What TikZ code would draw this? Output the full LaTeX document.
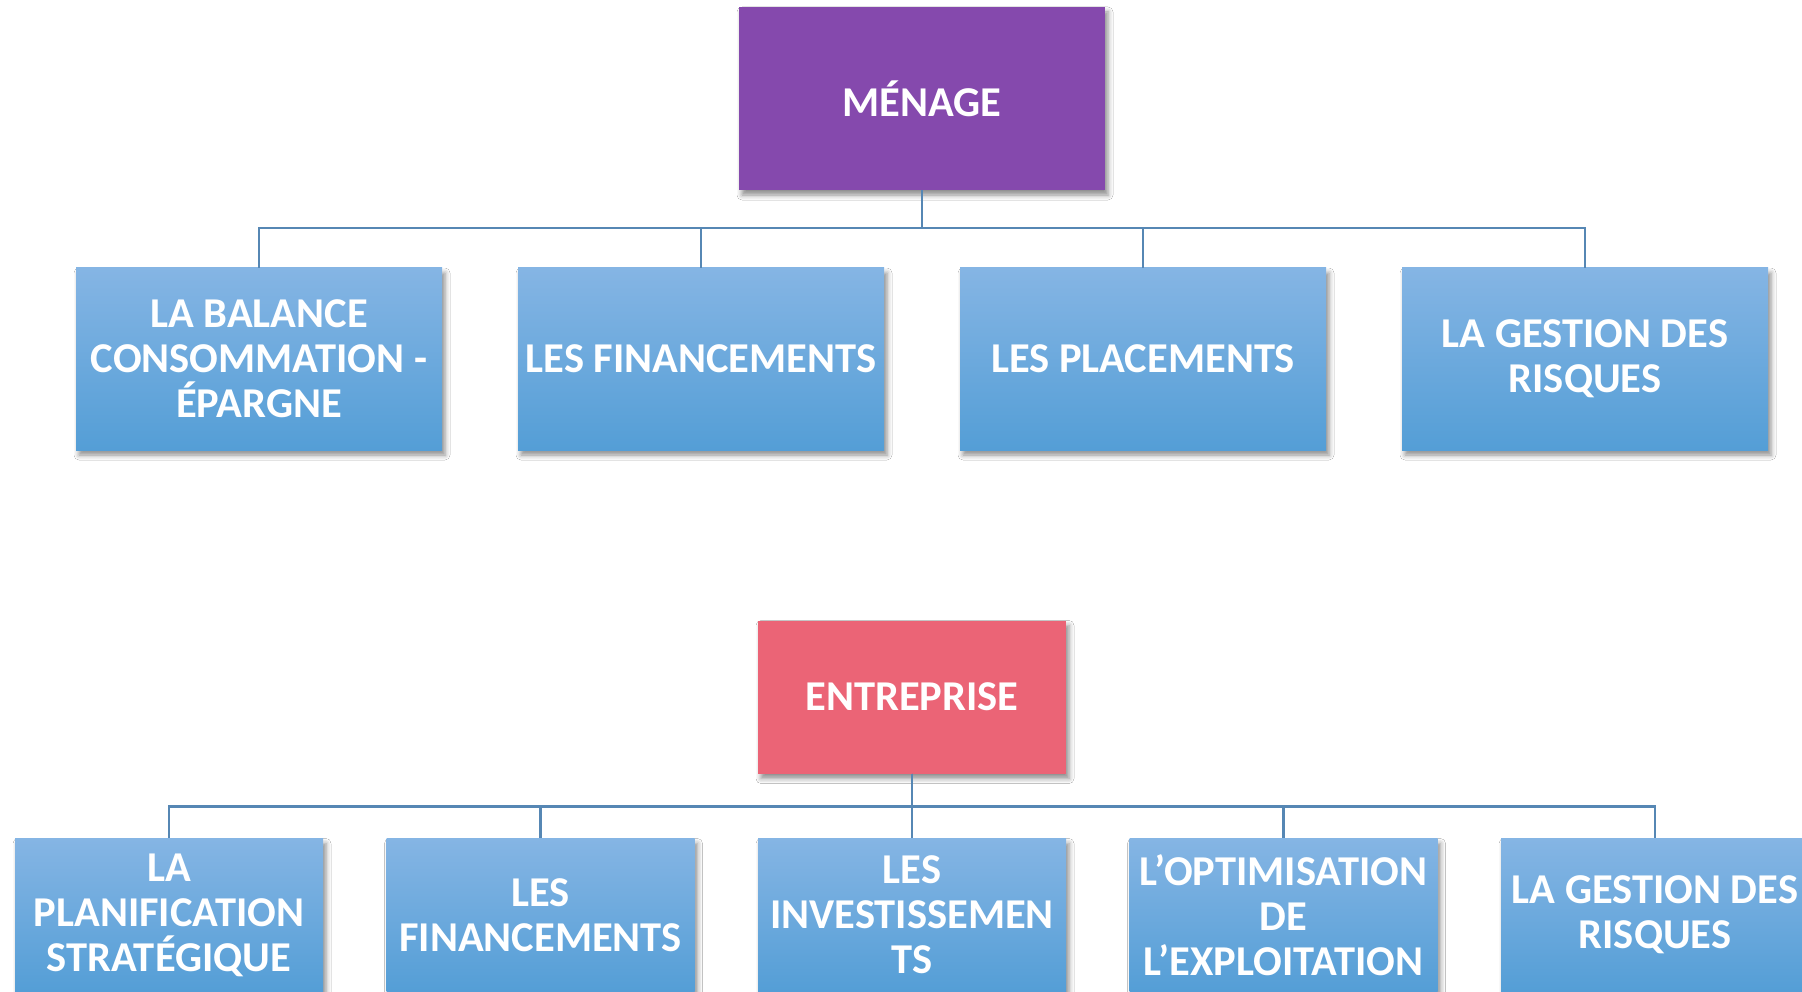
\documentclass[tikz,border=0pt]{standalone}
\usepackage{fontspec}
\setmainfont{Carlito}
\usetikzlibrary{shadows.blur}
\definecolor{menagepurple}{RGB}{133,73,173}
\definecolor{entrepink}{RGB}{235,100,118}
\definecolor{boxtop}{RGB}{133,181,228}
\definecolor{boxbottom}{RGB}{84,158,214}
\definecolor{linkblue}{RGB}{86,135,180}
\tikzset{
  boxshadow/.style={blur shadow={shadow xshift=3pt, shadow yshift=-5pt, shadow blur radius=5pt, shadow opacity=45}},
  basebox/.style={boxshadow, inner sep=0pt, align=center, text=white,
    font=\fontsize{42.5}{45}\selectfont\bfseries},
  headbox/.style={basebox, minimum width=366pt, minimum height=183pt},
  topkid/.style={basebox, top color=boxtop, bottom color=boxbottom, minimum width=366pt, minimum height=182pt},
  lowhead/.style={basebox, minimum width=308pt, minimum height=153pt},
  lowkid/.style={basebox, top color=boxtop, bottom color=boxbottom, minimum width=308pt, minimum height=153pt},
  link/.style={draw=linkblue, line width=2.6pt}
}
\begin{document}
\begin{tikzpicture}[x=1pt,y=-1pt]
  \useasboundingbox (0,0) rectangle (1802,992);
  \clip (0,0) rectangle (1802,992);
  \fill[white] (0,0) rectangle (1802,992);

  % household tree
  \node[headbox, fill=menagepurple] (m) at (922,98.5) {MÉNAGE};
  \node[topkid] (m1) at (259,359) {LA BALANCE\\CONSOMMATION -\\ÉPARGNE};
  \node[topkid] (m2) at (701,359) {LES FINANCEMENTS};
  \node[topkid] (m3) at (1143,359) {LES PLACEMENTS};
  \node[topkid] (m4) at (1585,359) {LA GESTION DES\\RISQUES};
  \foreach \k in {m1,m2,m3,m4}
    \draw[link] (m.south) -- ++(0,38) -| (\k.north);

  % company tree
  \node[lowhead, fill=entrepink] (e) at (912,697) {ENTREPRISE};
  \node[lowkid] (e1) at (169,915) {LA\\PLANIFICATION\\STRATÉGIQUE};
  \node[lowkid] (e2) at (540.5,915) {LES\\FINANCEMENTS};
  \node[lowkid] (e3) at (912,915) {LES\\INVESTISSEMEN\\TS};
  \node[lowkid] (e4) at (1283.5,915) {L’OPTIMISATION\\DE\\L’EXPLOITATION};
  \node[lowkid] (e5) at (1655,915) {LA GESTION DES\\RISQUES};
  \foreach \k in {e1,e2,e3,e4,e5}
    \draw[link] (e.south) -- ++(0,33) -| (\k.north);
\end{tikzpicture}
\end{document}
